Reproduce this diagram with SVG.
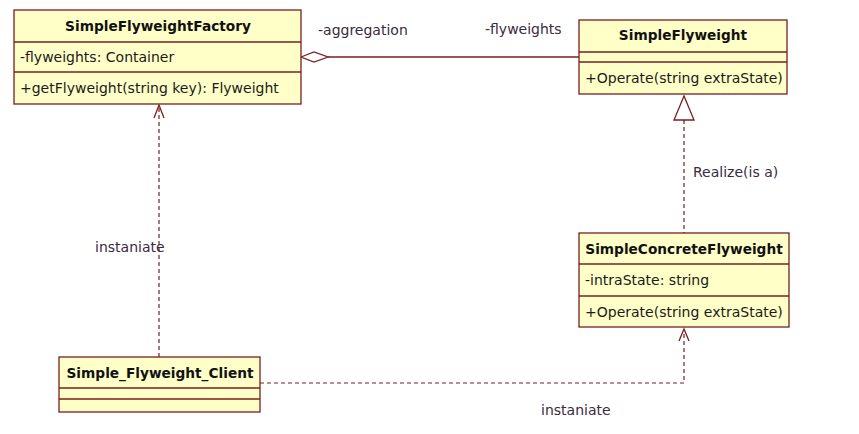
<svg xmlns="http://www.w3.org/2000/svg" width="859" height="434" viewBox="0 0 859 434">
<style>
.box{fill:#ffffc8;stroke:#7a1f1f;stroke-width:1.3}
.div{stroke:#7a1f1f;stroke-width:1.3}
.t{font-family:"DejaVu Sans",Verdana,sans-serif;font-size:14px;fill:#1a1a1a}
.b{font-family:"DejaVu Sans",Verdana,sans-serif;font-size:13.7px;font-weight:bold;fill:#111}
.lbl{font-family:"DejaVu Sans",Verdana,sans-serif;font-size:14px;fill:#3a2a40}
.solid{stroke:#7a1f1f;stroke-width:1.3;fill:none}
.dash{stroke:#7a1f1f;stroke-width:1.2;fill:none;stroke-dasharray:4,3}
</style>
<rect width="859" height="434" fill="#ffffff"/>
<g id="connectors">
  <line class="solid" x1="328" y1="57" x2="579" y2="57"/>
  <polygon points="301,57 314,52 328,57 314,62" fill="#ffffff" stroke="#7a1f1f" stroke-width="1.3"/>
  <line class="dash" x1="684" y1="120" x2="684" y2="233"/>
  <polygon points="684,96 674,120 694,120" fill="#ffffff" stroke="#7a1f1f" stroke-width="1.3"/>
  <line class="dash" x1="159" y1="357" x2="159" y2="106"/>
  <polyline class="solid" points="154,118 159,105 164,118"/>
  <polyline class="dash" points="260,383 684,383 684,330"/>
  <polyline class="solid" points="679,341 684,329 689,341"/>
  <text class="lbl" x="318" y="35">-aggregation</text>
  <text class="lbl" x="485" y="34">-flyweights</text>
  <text class="lbl" x="693" y="177">Realize(is a)</text>
  <text class="lbl" x="95" y="252">instaniate</text>
  <text class="lbl" x="541" y="415">instaniate</text>
</g>
<g id="SimpleFlyweightFactory">
  <rect class="box" x="14" y="10" width="287" height="94"/>
  <line class="div" x1="14" y1="42" x2="301" y2="42"/>
  <line class="div" x1="14" y1="72" x2="301" y2="72"/>
  <text class="b" x="158" y="31" text-anchor="middle">SimpleFlyweightFactory</text>
  <text class="t" x="20" y="62">-flyweights: Container</text>
  <text class="t" x="20" y="93">+getFlyweight(string key): Flyweight</text>
</g>
<g id="SimpleFlyweight">
  <rect class="box" x="579" y="20" width="208" height="74"/>
  <line class="div" x1="579" y1="52" x2="787" y2="52"/>
  <line class="div" x1="579" y1="62" x2="787" y2="62"/>
  <text class="b" x="683" y="40" text-anchor="middle">SimpleFlyweight</text>
  <text class="t" x="585" y="83">+Operate(string extraState)</text>
</g>
<g id="SimpleConcreteFlyweight">
  <rect class="box" x="579" y="233" width="210" height="94"/>
  <line class="div" x1="579" y1="264" x2="789" y2="264"/>
  <line class="div" x1="579" y1="296" x2="789" y2="296"/>
  <text class="b" x="684" y="254" text-anchor="middle">SimpleConcreteFlyweight</text>
  <text class="t" x="585" y="285">-intraState: string</text>
  <text class="t" x="585" y="317">+Operate(string extraState)</text>
</g>
<g id="Simple_Flyweight_Client">
  <rect class="box" x="59" y="357" width="201" height="55"/>
  <line class="div" x1="59" y1="388" x2="260" y2="388"/>
  <line class="div" x1="59" y1="399" x2="260" y2="399"/>
  <text class="b" x="160" y="378" text-anchor="middle">Simple_Flyweight_Client</text>
</g>
</svg>
